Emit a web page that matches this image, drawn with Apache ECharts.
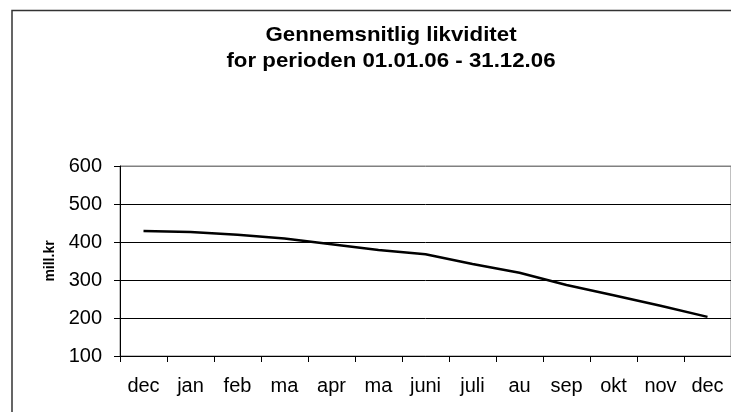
<!DOCTYPE html>
<html>
<head>
<meta charset="utf-8">
<script src="https://cdn.jsdelivr.net/npm/echarts@6/dist/echarts.min.js"></script>
<style>
  html, body { margin: 0; padding: 0; background: #fff; }
  #chart { width: 731px; height: 412px; }
</style>
</head>
<body>
<div id="chart"></div>
<script>
  // data
  var months = ["dec", "jan", "feb", "ma", "apr", "ma", "juni", "juli", "au", "sep", "okt", "nov", "dec"];
  var likviditet = [429, 426, 419, 409, 394, 379, 368, 342, 319, 287, 260, 232, 203];
  var titleLines = ["Gennemsnitlig likviditet", "for perioden 01.01.06 - 31.12.06"];
  var yName = "mill.kr";

  var font = "Liberation Sans, Arial, sans-serif";
  var chart = echarts.init(document.getElementById("chart"));
  chart.setOption({
    animation: false,
    grid: {
      left: 120,
      right: 0,
      top: 166,
      bottom: 56,
      show: true,
      borderColor: "#808080",
      borderWidth: 1
    },
    graphic: [
      {
        type: "rect",
        shape: { x: 12, y: 10.5, width: 740, height: 420 },
        style: { fill: null, stroke: "#333", lineWidth: 1.5 },
        z: 100
      },
      {
        type: "text",
        x: 391,
        y: 35,
        scaleX: 1.06,
        style: {
          text: titleLines[0],
          font: "bold 21px " + font,
          fill: "#000",
          textAlign: "center",
          textVerticalAlign: "middle"
        }
      },
      {
        type: "text",
        x: 391,
        y: 61,
        scaleX: 1.06,
        style: {
          text: titleLines[1],
          font: "bold 21px " + font,
          fill: "#000",
          textAlign: "center",
          textVerticalAlign: "middle"
        }
      }
    ],
    xAxis: {
      type: "category",
      data: months,
      boundaryGap: true,
      axisLine: { lineStyle: { color: "#000", width: 1 } },
      axisTick: { show: true, length: 6, lineStyle: { color: "#000" } },
      axisLabel: { color: "#000", fontSize: 20, fontFamily: font, margin: 20, interval: 0 },
      splitLine: { show: false }
    },
    yAxis: {
      type: "value",
      min: 100,
      max: 600,
      interval: 100,
      name: yName,
      nameLocation: "middle",
      nameRotate: 90,
      nameGap: 63,
      nameTextStyle: { color: "#000", fontSize: 14, fontWeight: "bold", fontFamily: font },
      axisLine: { show: true, lineStyle: { color: "#000", width: 1 } },
      axisTick: { show: true, length: 6, lineStyle: { color: "#000" } },
      axisLabel: { color: "#000", fontSize: 20, fontFamily: font, margin: 18 },
      splitLine: { show: true, lineStyle: { color: ["#000", "#000", "#000", "#000", "#000", "#808080"], width: 1 } }
    },
    series: [
      {
        type: "line",
        data: likviditet,
        showSymbol: false,
        symbol: "none",
        lineStyle: { color: "#000", width: 2.5 }
      }
    ]
  });
</script>
</body>
</html>
